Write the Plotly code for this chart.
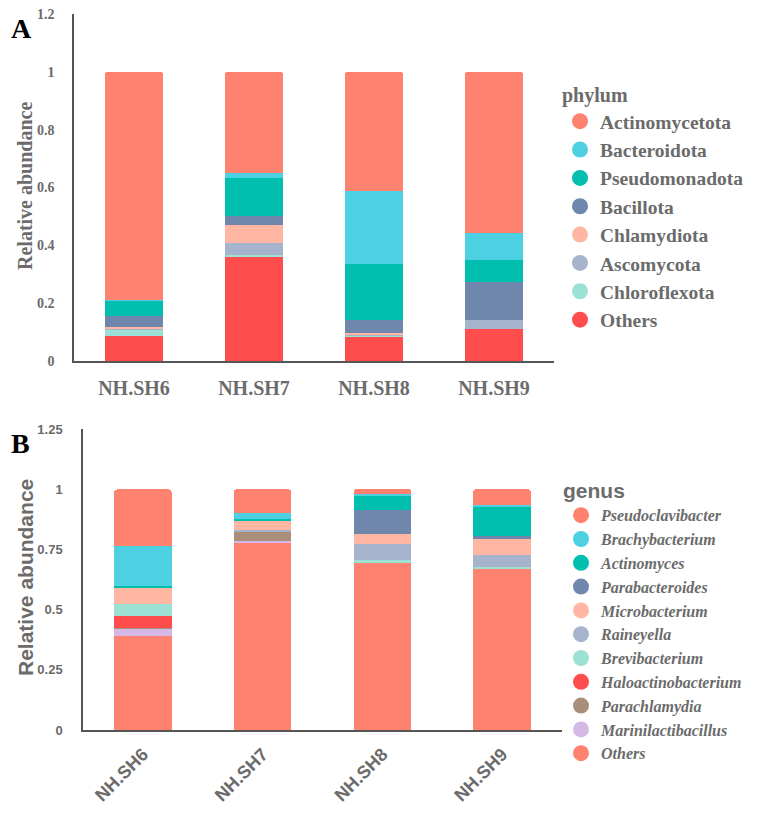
import plotly.graph_objects as go

samples = ["NH.SH6", "NH.SH7", "NH.SH8", "NH.SH9"]

# phylum level (panel A), legend order = top of stack first
phyla = ["Actinomycetota", "Bacteroidota", "Pseudomonadota", "Bacillota",
         "Chlamydiota", "Ascomycota", "Chloroflexota", "Others"]
actinomycetota = [0.788, 0.351, 0.412, 0.559]
bacteroidota = [0.003, 0.016, 0.253, 0.092]
pseudomonadota = [0.052, 0.133, 0.193, 0.077]
bacillota = [0.039, 0.028, 0.046, 0.129]
chlamydiota = [0.006, 0.064, 0.004, 0.0]
ascomycota = [0.003, 0.043, 0.003, 0.031]
chloroflexota = [0.023, 0.003, 0.003, 0.0]
others_a = [0.086, 0.362, 0.086, 0.112]

# genus level (panel B)
genera = ["Pseudoclavibacter", "Brachybacterium", "Actinomyces", "Parabacteroides",
          "Microbacterium", "Raineyella", "Brevibacterium", "Haloactinobacterium",
          "Parachlamydia", "Marinilactibacillus", "Others"]
pseudoclavibacter = [0.234, 0.097, 0.021, 0.064]
brachybacterium = [0.165, 0.024, 0.007, 0.006]
actinomyces = [0.007, 0.011, 0.057, 0.126]
parabacteroides = [0.0, 0.0, 0.103, 0.011]
microbacterium = [0.069, 0.037, 0.039, 0.067]
raineyella = [0.0, 0.004, 0.069, 0.051]
brevibacterium = [0.05, 0.0, 0.008, 0.005]
haloactinobacterium = [0.049, 0.003, 0.0, 0.0]
parachlamydia = [0.005, 0.04, 0.0, 0.0]
marinilactibacillus = [0.029, 0.005, 0.0, 0.0]
others_b = [0.391, 0.778, 0.696, 0.67]

phylum_vals = [actinomycetota, bacteroidota, pseudomonadota, bacillota,
               chlamydiota, ascomycota, chloroflexota, others_a]
genus_vals = [pseudoclavibacter, brachybacterium, actinomyces, parabacteroides,
              microbacterium, raineyella, brevibacterium, haloactinobacterium,
              parachlamydia, marinilactibacillus, others_b]

phylum_colors = ["#FF8170", "#4DD0E1", "#00BFAE", "#6F87AD",
                 "#FFB6A3", "#A6B3CD", "#9DE0D4", "#FF4C4C"]
genus_colors = ["#FF8170", "#4DD0E1", "#00BFAE", "#6F87AD", "#FFB6A3",
                "#A6B3CD", "#9DE0D4", "#FF4C4C", "#A98E7C", "#D6B8E6", "#FF8170"]

GRAY = "#6b6b6b"
SERIF = "Liberation Serif"
SANS = "Liberation Sans"

W = 757
H = 819
OFF = 8  # page body margin


def fx(px):
    return (px - OFF) / W


def fy(px):
    return 1 - (px - OFF) / H


fig = go.Figure()

# bars: stacked bottom-up, so add in reverse legend order
for name, vals, col in reversed(list(zip(phyla, phylum_vals, phylum_colors))):
    fig.add_trace(go.Bar(x=samples, y=vals, marker_color=col, marker_line_width=0,
                         width=0.48, showlegend=False, xaxis="x", yaxis="y", hoverinfo="name+y",
                         name=name))
for name, vals, col in reversed(list(zip(genera, genus_vals, genus_colors))):
    fig.add_trace(go.Bar(x=samples, y=vals, marker_color=col, marker_line_width=0,
                         width=0.48, showlegend=False, xaxis="x2", yaxis="y2", hoverinfo="name+y",
                         name=name))

# legend entries with round markers
for i, (name, col) in enumerate(zip(phyla, phylum_colors)):
    fig.add_trace(go.Scatter(x=[None], y=[None], mode="markers", name=name,
                             marker=dict(color=col, size=20, symbol="circle"),
                             legend="legend", legendgroup="p%d" % i, xaxis="x", yaxis="y"))
for i, (name, col) in enumerate(zip(genera, genus_colors)):
    fig.add_trace(go.Scatter(x=[None], y=[None], mode="markers", name="<i>%s</i>" % name,
                             marker=dict(color=col, size=18, symbol="circle"),
                             legend="legend2", legendgroup="g%d" % i, xaxis="x2", yaxis="y2"))

fig.update_layout(
    width=W, height=H,
    margin=dict(l=0, r=0, t=0, b=0, autoexpand=False),
    paper_bgcolor="white", plot_bgcolor="white",
    barmode="stack", barcornerradius=3,
    xaxis=dict(domain=[fx(74), fx(554)], anchor="y", showgrid=False,
               showline=True, linecolor="#555", linewidth=1.5, ticks="", ticklabelstandoff=8,
               tickfont=dict(family=SERIF, size=20, color=GRAY, weight="bold")),
    yaxis=dict(domain=[fy(361), fy(14)], anchor="x", range=[0, 1.2],
               tickvals=[0, 0.2, 0.4, 0.6, 0.8, 1, 1.2],
               ticktext=["0", "0.2", "0.4", "0.6", "0.8", "1", "1.2"],
               showgrid=False, zeroline=False, showline=True, linecolor="#555", linewidth=1.5,
               ticks="", ticklabelstandoff=15, ticklabeloverflow="allow",
               tickfont=dict(family=SERIF, size=14, color=GRAY, weight="bold")),
    xaxis2=dict(domain=[fx(83), fx(562)], anchor="y2", showgrid=False,
                showline=True, linecolor="#555", linewidth=1.5, ticks="", tickangle=-45,
                ticklabelstandoff=5,
                tickfont=dict(family=SANS, size=18, color=GRAY, weight="bold")),
    yaxis2=dict(domain=[fy(730), fy(429)], anchor="x2", range=[0, 1.25],
                tickvals=[0, 0.25, 0.5, 0.75, 1, 1.25],
                ticktext=["0", "0.25", "0.5", "0.75", "1", "1.25"],
                showgrid=False, zeroline=False, showline=True, linecolor="#555", linewidth=1.5,
                ticks="", ticklabelstandoff=16, ticklabeloverflow="allow",
                tickfont=dict(family=SANS, size=13, color=GRAY, weight="bold")),
    legend=dict(x=552 / W, y=1 - 68 / H, xanchor="left", yanchor="top",
                bgcolor="rgba(0,0,0,0)", tracegroupgap=0, itemwidth=30,
                font=dict(family=SERIF, size=19.5, color=GRAY, weight="bold"),
                title=dict(text="phylum", font=dict(family=SERIF, size=20, color=GRAY, weight="bold"))),
    legend2=dict(x=553 / W, y=1 - 463 / H, xanchor="left", yanchor="top",
                 bgcolor="rgba(0,0,0,0)", tracegroupgap=0, itemwidth=30,
                 font=dict(family=SERIF, size=16, color=GRAY, weight="bold"),
                 title=dict(text="genus", font=dict(family=SANS, size=21, color=GRAY, weight="bold"))),
    annotations=[
        dict(text="A", x=fx(21), y=fy(28), xref="paper", yref="paper", showarrow=False,
             xanchor="center", yanchor="middle",
             font=dict(family=SERIF, size=28, color="black", weight="bold")),
        dict(text="B", x=fx(20), y=fy(443), xref="paper", yref="paper", showarrow=False,
             xanchor="center", yanchor="middle",
             font=dict(family=SERIF, size=28, color="black", weight="bold")),
        # rotated y-axis titles placed as paper annotations
        dict(text="Relative abundance", x=fx(25), y=fy(186), xref="paper", yref="paper",
             showarrow=False, textangle=-90, xanchor="center", yanchor="middle",
             font=dict(family=SERIF, size=20, color=GRAY, weight="bold")),
        dict(text="Relative abundance", x=fx(25), y=fy(578), xref="paper", yref="paper",
             showarrow=False, textangle=-90, xanchor="center", yanchor="middle",
             font=dict(family=SANS, size=21, color=GRAY, weight="bold")),
    ],
)

fig.write_html("out.html")
